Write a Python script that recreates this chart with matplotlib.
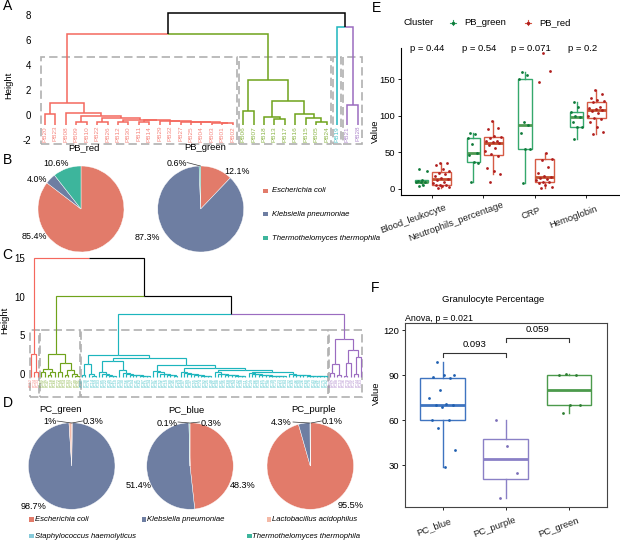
import numpy as np
import matplotlib
matplotlib.use("Agg")
import matplotlib.pyplot as plt
from matplotlib.patches import Rectangle
from matplotlib.transforms import blended_transform_factory, offset_copy

plt.rcParams['font.family'] = ['Liberation Sans', 'DejaVu Sans']
plt.rcParams['axes.unicode_minus'] = False

W, H = 620, 540

# ---------------- data ----------------
# A: dendrogram of PB samples, nodes are [left, right, height]
R6 = ["PB01", "PB02", -0.62]
R6 = ["PB03", R6, -0.60]
R6 = ["PB04", R6, -0.58]
R6 = ["PB25", R6, -0.56]
R6 = ["PB27", R6, -0.54]
R6 = ["PB32", R6, -0.50]
R5 = ["PB29", R6, -0.45]
R4 = [["PB11", "PB14", -0.54], R5, -0.42]
R3 = [["PB12", "PB30", -0.52], R4, -0.38]
R2 = [["PB22", "PB26", -0.52], R3, -0.25]
R1 = [["PB09", "PB10", -0.52], R2, -0.06]
pb_red_tree = [["PB20", "PB23", 0.07], ["PB08", R1, 0.15], 0.93]
pb_green_tree = [["PB06", "PB07", 0.33],
                 [["PB18", ["PB13", "PB17", -0.33], -0.17],
                  ["PB16", ["PB15", ["PB05", "PB24", -0.52], -0.25], 0.07], 1.13], 2.8]
pb_cyan_tree = "PB19"
pb_purple_tree = ["PB21", "PB28", 0.81]
pb_root = [[pb_red_tree, pb_green_tree, 6.48], [pb_cyan_tree, pb_purple_tree, 6.99], 8.15]
pb_leaf_h = -0.75
pb_cut = 4.6


# C: dendrogram of PC samples (leaf ids index pc_names)
def comb(first, hs):
    n = len(hs) + 1
    node = first + n - 1
    for k, h in enumerate(hs):
        node = [first + n - 2 - k, node, h]
    return node


pc_red_tree = [0, [1, 2, 0.3], 2.57]
pc_green_tree = [[[3, 4, 0.35], [[5, 6, -0.1], 7, 0.3], 0.64],
                 [[8, 9, 0.3], [[10, 11, -0.1], [12, [13, 14, -0.2], 0.1], 0.5], 1.41], 2.6]
cyan_a = [[15, 16, -0.1], [17, [18, 19, -0.2], 0.1], 1.3]
cyan_b = [comb(20, [-0.22, -0.18, -0.1, 0.05, 0.3]),
          comb(26, [-0.25, -0.22, -0.2, -0.15, -0.1, -0.05, 0.05, 0.2, 0.5]), 1.7]
c1 = comb(36, [-0.2, -0.15, -0.1, 0.0, 0.1, 0.25, 0.45])
c2 = comb(44, [-0.25, -0.2, -0.18, -0.12, -0.08, 0.0, 0.1, 0.2, 0.35])
c3 = comb(54, [-0.25, -0.22, -0.18, -0.15, -0.1, -0.05, 0.0, 0.1, 0.25])
c4 = comb(64, [-0.26, -0.24, -0.22, -0.2, -0.17, -0.14, -0.1, -0.05, 0.0, 0.08, 0.18])
c5 = comb(76, [-0.27, -0.25, -0.23, -0.21, -0.19, -0.17, -0.15, -0.12, -0.08, -0.03, 0.05])
cyan_c = [c1, [c2, [c3, [c4, c5, 0.3], 0.55], 0.85], 1.25]
pc_cyan_tree = [cyan_a, [cyan_b, cyan_c, 2.1], 2.48]
pc_purple_tree = [[[88, 89, 0.2], [90, 91, -0.1], 1.3],
                  [[[92, 93, -0.2], 94, 1.4], [[95, 96, 0.1], 97, 2.2], 3.1], 4.5]
pc_root = [pc_red_tree, [pc_green_tree, [pc_cyan_tree, pc_purple_tree, 7.75], 10.1], 15.0]
pc_leaf_h = -0.35
pc_cut = 5.7
pc_names = ("PC12 PC24 PC33 "
            "PC05 PC31 PC47 PC18 PC66 PC72 PC09 PC54 PC83 PC27 PC40 PC91 "
            "PC01 PC38 PC76 PC14 PC59 PC03 PC85 PC22 PC49 PC67 PC10 PC93 PC30 PC56 PC78 PC04 "
            "PC41 PC62 PC87 PC15 PC34 PC97 PC06 PC52 PC71 PC19 PC80 PC45 PC28 PC64 PC07 PC89 "
            "PC37 PC55 PC16 PC74 PC92 PC25 PC48 PC61 PC08 PC81 PC35 PC68 PC20 PC94 PC42 PC58 "
            "PC11 PC77 PC29 PC86 PC50 PC65 PC17 PC98 PC39 PC73 PC23 PC53 PC84 PC32 PC69 PC46 "
            "PC90 PC26 PC60 PC79 PC43 PC96 PC51 PC75 PC82 "
            "PC02 PC57 PC88 PC13 PC36 PC70 PC95 PC21 PC44 PC63").split()

# B / D: pies
species = ['Escherichia coli', 'Klebsiella pneumoniae', 'Lactobacillus acidophilus',
           'Staphylococcus haemolyticus', 'Thermothelomyces thermophila']
sp_colors = ['#E27B6A', '#6E7EA2', '#F4B9A6', '#86CADA', '#3DB59C']
pb_groups = ['PB_red', 'PB_green']
pb_pct = [[85.4, 4.0, 0, 0, 10.6],
          [12.1, 87.3, 0, 0, 0.6]]
pc_groups = ['PC_green', 'PC_blue', 'PC_purple']
pc_pct = [[0.3, 98.7, 1.0, 0, 0],
          [48.3, 51.4, 0, 0.1, 0.3],
          [95.5, 4.3, 0, 0, 0.1]]

# E: clinical values by PB cluster
e_vars = ['Blood_leukocyte', 'Neutrophils_percentage', 'CRP', 'Hemoglobin']
e_green = [[27, 24, 12, 11, 10, 10, 9, 6, 4],
           [10, 35, 37, 47, 49, 62, 70, 75, 77],
           [8, 54, 55, 77, 87, 92, 150, 156, 160],
           [68, 84, 85, 92, 98, 100, 105, 112, 118]]
e_red = [[2, 3, 4, 5, 5, 6, 8, 10, 12, 14, 15, 18, 20, 22, 25, 27, 33, 35, 36],
         [10, 20, 25, 28, 45, 48, 52, 56, 60, 63, 64, 65, 66, 70, 71, 72, 82, 83, 93],
         [1, 3, 5, 8, 9, 10, 12, 14, 15, 17, 18, 22, 30, 40, 41, 49, 146, 161, 185],
         [75, 78, 85, 92, 96, 97, 100, 104, 106, 108, 109, 110, 112, 118, 120, 121, 124, 130, 135]]
e_p = ['p = 0.44', 'p = 0.54', 'p = 0.071', 'p = 0.2']

# F: granulocyte percentage by PC cluster
f_groups = ['PC_blue', 'PC_purple', 'PC_green']
f_vals = [[99, 90, 90, 89, 88, 80, 75, 71, 70, 70, 69, 60, 60, 55, 40, 29],
          [8, 25, 43, 60],
          [65, 70, 70, 90, 90, 91]]
f_pairs = [(1, 2, '0.093', 104.7), (2, 3, '0.059', 114.7)]

# ---------------- figure ----------------
fig = plt.figure(figsize=(W / 100, H / 100), dpi=100)


def px_axes(x0, y0, x1, y1):
    return fig.add_axes([x0 / W, 1 - y1 / H, (x1 - x0) / W, (y1 - y0) / H])


def leaves_of(node, out):
    if isinstance(node, list):
        leaves_of(node[0], out)
        leaves_of(node[1], out)
    else:
        out.append(node)
    return out


def draw_node(ax, node, xpos, colour, leaf_h, lw):
    if not isinstance(node, list):
        return xpos[node], leaf_h, colour[node]
    xl, hl, cl = draw_node(ax, node[0], xpos, colour, leaf_h, lw)
    xr, hr, cr = draw_node(ax, node[1], xpos, colour, leaf_h, lw)
    h = node[2]
    x = (xl + xr) / 2
    for xc, hc, cc in ((xl, hl, cl), (xr, hr, cr)):
        ax.plot([xc, xc, x], [hc, h, h], color=cc if cc else 'black', lw=lw,
                solid_capstyle='butt', solid_joinstyle='miter')
    return x, h, (cl if cl == cr else None)


def plot_dend(ax, root, clusters, leaf_h, cut, rect_bot, lw, label_y, label_fs, names=None, pad=5):
    order = leaves_of(root, [])
    xpos = {leaf: i for i, leaf in enumerate(order)}
    colour = {}
    for tree, col in clusters:
        for leaf in leaves_of(tree, []):
            colour[leaf] = col
    draw_node(ax, root, xpos, colour, leaf_h, lw)
    for leaf in order:
        s = names[leaf] if names else leaf
        ax.text(xpos[leaf], label_y, s, rotation=90, ha='center', va='top',
                fontsize=label_fs, color=colour[leaf], alpha=0.8)
    for tree, col in clusters:
        lv = leaves_of(tree, [])
        a, b = xpos[lv[0]], xpos[lv[-1]]
        ax.add_patch(Rectangle((a - 0.42, rect_bot), b - a + 0.84, cut - rect_bot, fill=False,
                               ec='#B0B0B0', lw=1.2, ls=(0, (5, 2.5)), zorder=0))
    for s in ax.spines.values():
        s.set_visible(False)
    ax.set_xticks([])
    ax.tick_params(axis='y', length=0, labelsize=7, pad=pad)


c_red, c_green, c_cyan, c_purple = '#F4685E', '#6FA31B', '#1DB5BD', '#9B6CC0'

# A
axA = px_axes(38, 9.5, 365, 145.4)
plot_dend(axA, pb_root, [(pb_red_tree, c_red), (pb_green_tree, c_green),
                         (pb_cyan_tree, c_cyan), (pb_purple_tree, c_purple)],
          pb_leaf_h, pb_cut, -2.25, 1.1, -0.85, 4.6)
axA.set_xlim(-0.67, 30.68)
axA.set_ylim(-2.4, 8.4)
axA.set_yticks([-2, 0, 2, 4, 6, 8])

# C
axC = px_axes(29, 254.5, 365, 398.4)
plot_dend(axC, pc_root, [(pc_red_tree, c_red), (pc_green_tree, c_green),
                         (pc_cyan_tree, c_cyan), (pc_purple_tree, c_purple)],
          pc_leaf_h, pc_cut, -2.9, 0.85, -0.5, 2.6, names=pc_names, pad=3)
axC.set_xlim(-0.59, 98.2)
axC.set_ylim(-3.1, 15.4)
axC.set_yticks([0, 5, 10, 15])


# pies
def pie(cx, cy, r, pct):
    ax = px_axes(cx - r, cy - r, cx + r, cy + r)
    vals = [v for v in pct if v > 0]
    cols = [c for v, c in zip(pct, sp_colors) if v > 0]
    ax.pie(vals, colors=cols, startangle=90, counterclock=False,
           wedgeprops=dict(lw=0.3, edgecolor='white'))
    ax.set_xlim(-1, 1)
    ax.set_ylim(-1, 1)
    ax.set_aspect('equal')
    ax.axis('off')


pie(81, 209, 43, pb_pct[0])
pie(200.7, 209, 43, pb_pct[1])
pie(71.7, 466, 43.3, pc_pct[0])
pie(190, 466, 43.3, pc_pct[1])
pie(310.3, 466, 43.3, pc_pct[2])


def jit(n, hw):
    return ((np.arange(n) * 0.618034 + 0.3) % 1 - 0.5) * 2 * hw


def slanted(ax, labels, ang=20, pad=12, fs=6.8):
    r = fig.canvas.get_renderer()
    base = blended_transform_factory(ax.transData, ax.transAxes)
    a = np.radians(ang)
    for i, s in enumerate(labels):
        tmp = fig.text(0, 0, s, fontsize=fs)
        L = tmp.get_window_extent(r).width
        tmp.remove()
        d = 0.2 * L
        tr = offset_copy(base, fig=fig, x=d * np.cos(a), y=d * np.sin(a) - pad, units='dots')
        ax.text(i + 1, 0, s, transform=tr, rotation=ang, ha='right', va='top',
                rotation_mode='anchor', fontsize=fs, clip_on=False, color='#222222')


def box(ax, vals, pos, w, edge, med, dot, jw):
    ax.boxplot([vals], positions=[pos], widths=[w], showfliers=False, showcaps=False,
               patch_artist=True, manage_ticks=False,
               boxprops=dict(facecolor='white', edgecolor=edge, lw=1.0),
               whiskerprops=dict(color=edge, lw=1.0),
               medianprops=dict(color=med, lw=2.0))
    ax.plot(pos + jit(len(vals), jw), vals, 'o', ms=2.0, color=dot, mec='none', zorder=5)


# E
g_edge, g_med, g_dot = '#35A86C', '#4F9A53', '#0F7A3A'
r_edge, r_med, r_dot = '#D65B45', '#C2502F', '#B01E1E'
axE = px_axes(400.7, 48, 620, 195.3)
for i in range(len(e_vars)):
    for vals, off, ed, md, dt in ((e_green[i], -0.19, g_edge, g_med, g_dot),
                                  (e_red[i], 0.19, r_edge, r_med, r_dot)):
        w = 0.37 * np.sqrt(len(vals) / 19)
        box(axE, vals, i + 1 + off, w, ed, md, dt, 0.45 * w)
    axE.text(i + 0.92, 192, e_p[i], ha='center', va='center', fontsize=6.8, clip_on=False)
axE.set_xlim(0.4, 4.65)
axE.set_ylim(-8.6, 192.3)
axE.set_yticks([0, 50, 100, 150])
axE.set_xticks([1, 2, 3, 4])
axE.set_xticklabels([])
for s in ('top', 'right'):
    axE.spines[s].set_visible(False)
for s in ('left', 'bottom'):
    axE.spines[s].set_linewidth(0.8)
axE.tick_params(labelsize=6.8, length=2.5, width=0.6, pad=1.5)
slanted(axE, e_vars)

# F
f_edge = ['#3F74C0', '#8A80C6', '#4C9A4C']
f_dot = ['#1F5FB0', '#7B6FB8', '#2E7D32']
axF = px_axes(405, 323.3, 606.7, 506.7)
for i, vals in enumerate(f_vals):
    box(axF, vals, i + 1, 0.71, f_edge[i], f_edge[i], f_dot[i], 0.22)
for a, b, s, y in f_pairs:
    axF.plot([a, a, b, b], [y - 2.2, y, y, y - 2.2], color='#333333', lw=0.8)
    axF.text((a + b) / 2, y + 3, s, ha='center', va='bottom', fontsize=6.8)
axF.set_xlim(0.4, 3.6)
axF.set_ylim(2.4, 124.7)
axF.set_yticks([30, 60, 90, 120])
axF.set_xticks([1, 2, 3])
axF.set_xticklabels([])
for s in axF.spines.values():
    s.set_linewidth(0.8)
    s.set_color('#444444')
axF.tick_params(labelsize=6.8, length=2.5, width=0.6, pad=1.5)
slanted(axF, f_groups)

# overlay for free text
ov = fig.add_axes([0, 0, 1, 1])
ov.set_xlim(0, W)
ov.set_ylim(H, 0)
ov.axis('off')

for s, x, y in (('A', 3, 6), ('B', 3, 160), ('C', 2, 255), ('D', 3, 403), ('E', 372, 7.5), ('F', 371, 287.5)):
    ov.text(x, y, s, fontsize=10, ha='left', va='center')

ov.text(9, 85, 'Height', rotation=90, ha='center', va='center', fontsize=6.8)
ov.text(5, 320, 'Height', rotation=90, ha='center', va='center', fontsize=6.8)
ov.text(375, 131, 'Value', rotation=90, ha='center', va='center', fontsize=6.8)
ov.text(376.5, 393, 'Value', rotation=90, ha='center', va='center', fontsize=6.8)

# pie titles
for s, x, y in ((pb_groups[0], 84, 148), (pb_groups[1], 205, 148),
                (pc_groups[0], 60, 410), (pc_groups[1], 186.7, 410), (pc_groups[2], 314, 410)):
    ov.text(x, y, s, ha='center', va='center', fontsize=6.8)

# pie labels
pie_labels_b = [('10.6%', 55.8, 163.3), ('4.0%', 36.7, 179), ('85.4%', 34.2, 236.7),
                ('0.6%', 176.7, 163.3), ('12.1%', 236.7, 171.7), ('87.3%', 147.5, 237.7)]
pie_labels_d = [('1%', 50, 421.7), ('0.3%', 93, 421.7), ('98.7%', 33.5, 506.7),
                ('0.1%', 167, 423), ('0.3%', 211, 423), ('51.4%', 139, 486), ('48.3%', 242.5, 486),
                ('4.3%', 281, 422.7), ('0.1%', 332.5, 421.7), ('95.5%', 351, 505)]
for s, x, y in pie_labels_b:
    ov.text(x, y, s, ha='center', va='center', fontsize=6.4)
for s, x, y in pie_labels_d:
    ov.text(x, y, s, ha='center', va='center', fontsize=6.6)
leaders = [((187, 200.5), (162.5, 166)), ((57, 71.5), (421, 423)), ((82.5, 72), (421, 423)),
           ((178, 189.5), (422, 423)), ((199.5, 190.5), (422, 423)),
           ((293, 309.5), (422, 423)), ((321.5, 311), (421, 423))]
for xs, ys in leaders:
    ov.plot(xs, ys, color='#333333', lw=0.5)

# pie legends
for k, (i, y) in enumerate(((0, 191), (1, 214), (4, 238))):
    ov.add_patch(Rectangle((263.3, y - 2.3), 4.6, 4.6, color=sp_colors[i], lw=0))
    ov.text(271.7, y, species[i], ha='left', va='center', fontsize=5.6, style='italic')
for i, x, y in ((0, 29.3, 519.3), (1, 141.7, 519.3), (2, 266.7, 519.3),
                (3, 29.3, 536), (4, 247, 536)):
    ov.add_patch(Rectangle((x, y - 2.3), 4.6, 4.6, color=sp_colors[i], lw=0))
    ov.text(x + 5.5, y, species[i], ha='left', va='center', fontsize=5.6, style='italic')

# E legend
ov.text(403, 22.7, 'Cluster', ha='left', va='center', fontsize=6.8)
for x, lab, ed, dt in ((453, 'PB_green', g_edge, g_dot), (528, 'PB_red', r_edge, r_dot)):
    ov.plot([x - 3, x + 3], [22.7, 22.7], color=ed, lw=0.8)
    ov.plot([x, x], [20.2, 25.2], color=ed, lw=0.8)
    ov.plot(x, 22.7, 'o', ms=2.5, color=dt, mec='none')
    ov.text(x + 11.5, 22.7, lab, ha='left', va='center', fontsize=6.8)

# F titles
ov.text(493, 299.3, 'Granulocyte Percentage', ha='center', va='center', fontsize=6.8)
ov.text(405, 318.3, 'Anova, p = 0.021', ha='left', va='center', fontsize=6.4)

fig.savefig('out.png', dpi=100)
